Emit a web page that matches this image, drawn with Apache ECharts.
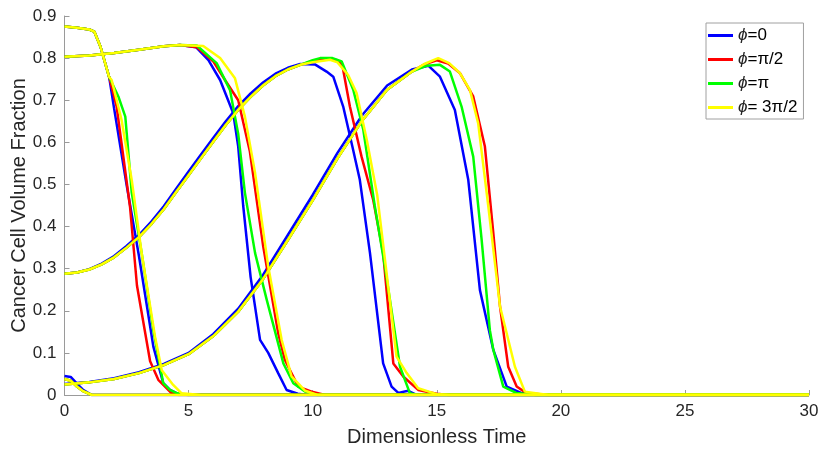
<!DOCTYPE html>
<html><head><meta charset="utf-8">
<script src="https://cdn.jsdelivr.net/npm/echarts@6/dist/echarts.min.js"></script>
<style>html,body{margin:0;padding:0;background:#fff}#c{width:821px;height:450px}</style>
</head><body><div id="c"></div>
<script>
// ---- data (time, volume fraction) ----
const names = ['ϕ=0', 'ϕ=π/2', 'ϕ=π', 'ϕ= 3π/2'];
const colors = ['#0000ff', '#ff0000', '#00ff00', '#ffff00'];
const xTicks = [0, 5, 10, 15, 20, 25, 30];
const yTicks = [0, 0.1, 0.2, 0.3, 0.4, 0.5, 0.6, 0.7, 0.8, 0.9];

const wave1Start = [[0,0.875],[0.5,0.872],[1,0.868],[1.2,0.863],[1.45,0.827],[1.8,0.755]];
const blue1Drop = [[2.0,0.68],[2.5,0.50],[3.0,0.33],[3.58,0.115],[3.98,0.028],[4.25,0.012],[4.6,0.002],[5,0],[30,0]];
const red1Drop = [[2.1,0.685],[2.64,0.447],[2.92,0.26],[3.45,0.08],[3.78,0.036],[4.05,0.02],[4.3,0.005],[4.6,0],[30,0]];
const green1Drop = [[2.17,0.709],[2.45,0.661],[2.71,0.48],[3.11,0.337],[3.58,0.154],[3.98,0.028],[4.25,0.012],[4.5,0.005],[5,0],[30,0]];
const yellow1Drop = [[1.9,0.748],[2.3,0.653],[2.71,0.51],[3.11,0.337],[3.65,0.138],[3.92,0.059],[4.38,0.024],[4.72,0.004],[5.5,0],[30,0]];

const wave2Start = [[0,0.803],[1,0.806],[2,0.812],[3,0.82],[4,0.828],[4.65,0.831]];
const blue2Drop = [[5.3,0.826],[5.8,0.795],[6.27,0.748],[6.8,0.669],[7.0,0.59],[7.2,0.45],[7.5,0.28],[7.88,0.131],[8.21,0.1],[8.61,0.052],[8.95,0.012],[9.4,0.003],[9.8,0],[30,0]];
const red2Drop = [[5.33,0.826],[6.0,0.792],[6.5,0.745],[7.0,0.70],[7.47,0.578],[8.01,0.352],[8.61,0.147],[8.88,0.083],[9.42,0.02],[9.96,0.008],[10.5,0],[30,0]];
const green2Drop = [[5.33,0.83],[6.13,0.788],[6.67,0.724],[7.0,0.62],[7.27,0.48],[7.68,0.337],[8.15,0.226],[8.82,0.075],[9.22,0.028],[9.7,0.008],[10.2,0],[30,0]];
const yellow2Drop = [[5.59,0.829],[6.27,0.80],[6.87,0.752],[7.27,0.661],[7.68,0.527],[8.21,0.305],[8.75,0.131],[9.15,0.044],[9.7,0.01],[10.2,0],[30,0]];

const blue3Rise = [[0,0.288],[0.5,0.291],[1,0.299],[1.5,0.312],[2,0.33],[2.5,0.354],[3,0.38],[3.5,0.412],[4,0.448],[4.5,0.49],[5,0.531],[5.5,0.571],[6,0.611],[6.5,0.65],[7,0.686],[7.5,0.716],[8,0.742],[8.5,0.763],[9,0.777],[9.5,0.786]];
const wave3Rise = [[0,0.288],[0.5,0.291],[1,0.298],[1.5,0.31],[2,0.327],[2.5,0.35],[3,0.375],[3.5,0.406],[4,0.441],[4.5,0.482],[5,0.522],[5.5,0.562],[6,0.602],[6.5,0.641],[7,0.677],[7.5,0.708],[8,0.735],[8.5,0.757],[9,0.773],[9.5,0.784]];
const blue3Drop = [[10.09,0.785],[10.56,0.768],[10.83,0.756],[11.23,0.685],[11.6,0.59],[11.9,0.511],[12.31,0.337],[12.84,0.075],[13.18,0.02],[13.45,0.005],[13.85,0.01],[14.12,0.002],[14.5,0],[30,0]];
const red3Drop = [[10,0.793],[10.56,0.80],[11.0,0.795],[11.2,0.782],[11.5,0.685],[11.97,0.566],[12.44,0.463],[12.84,0.337],[13.25,0.075],[13.65,0.044],[14.25,0.012],[15,0.003],[15.5,0],[30,0]];
const green3Drop = [[10,0.795],[10.3,0.80],[10.8,0.80],[11.17,0.792],[11.64,0.724],[12.04,0.63],[12.5,0.45],[12.91,0.305],[13.52,0.067],[13.92,0.004],[14.2,0],[30,0]];
const yellow3Drop = [[10,0.79],[10.7,0.796],[11.0,0.79],[11.43,0.76],[11.77,0.717],[12.18,0.606],[12.6,0.475],[12.98,0.289],[13.38,0.091],[13.79,0.052],[14.25,0.016],[15,0.002],[15.5,0],[30,0]];

const blue4Rise = [[0,0.026],[1,0.031],[2,0.04],[3,0.054],[4,0.074],[5,0.1],[6,0.145],[7,0.205],[8,0.285],[9,0.38],[10,0.475],[11,0.575],[12,0.665],[13,0.735],[14,0.773],[14.66,0.782]];
const wave4Rise = [[0,0.025],[1,0.03],[2,0.038],[3,0.052],[4,0.071],[5,0.097],[6,0.14],[7,0.198],[8,0.275],[9,0.368],[10,0.462],[11,0.562],[12,0.652],[13,0.725],[14,0.768]];
const blue4Drop = [[15.13,0.756],[15.73,0.677],[16.27,0.511],[16.74,0.249],[17.28,0.107],[17.82,0.02],[18.4,0.005],[19,0],[30,0]];
const red4Drop = [[14.5,0.785],[15.0,0.795],[15.46,0.787],[15.94,0.764],[16.47,0.709],[16.94,0.59],[17.28,0.384],[17.55,0.21],[17.88,0.067],[18.22,0.02],[18.6,0.005],[19.5,0],[30,0]];
const green4Drop = [[14.6,0.782],[15.13,0.784],[15.53,0.768],[16.0,0.685],[16.47,0.566],[16.81,0.368],[17.14,0.154],[17.28,0.107],[17.68,0.02],[18.2,0.005],[19,0],[30,0]];
const yellow4Drop = [[14.5,0.786],[15.06,0.80],[15.5,0.788],[15.94,0.764],[16.34,0.724],[16.67,0.645],[17.08,0.447],[17.55,0.21],[17.82,0.146],[18.15,0.067],[18.55,0.008],[19.5,0],[30,0]];

const blue5 = [[0,0.045],[0.25,0.043],[0.5,0.027],[0.75,0.012],[1.1,0],[30,0]];
const other5 = [[0,0.038],[0.25,0.034],[0.5,0.02],[0.75,0.009],[1.1,0],[30,0]];

// ---- build curves per legend entry ----
const curveSets = [
  [wave1Start.concat(blue1Drop), wave2Start.concat(blue2Drop), blue3Rise.concat(blue3Drop), blue4Rise.concat(blue4Drop), blue5],
  [wave1Start.concat(red1Drop), wave2Start.concat(red2Drop), wave3Rise.concat(red3Drop), wave4Rise.concat(red4Drop), other5],
  [wave1Start.concat(green1Drop), wave2Start.concat(green2Drop), wave3Rise.concat(green3Drop), wave4Rise.concat(green4Drop), other5],
  [wave1Start.concat(yellow1Drop), wave2Start.concat(yellow2Drop), wave3Rise.concat(yellow3Drop), wave4Rise.concat(yellow4Drop), other5]
];

const series = [];
curveSets.forEach((set, i) => {
  set.forEach(curve => {
    series.push({
      name: names[i], type: 'line', data: curve, symbol: 'none',
      lineStyle: { color: colors[i], width: 2.5 }, itemStyle: { color: colors[i] },
      silent: true
    });
  });
});

const FONT = 'Liberation Sans, Arial, sans-serif';
const chart = echarts.init(document.getElementById('c'), null, { renderer: 'canvas' });
chart.setOption({
  animation: false,
  backgroundColor: '#fff',
  grid: { left: 64.5, right: 12, top: 16, bottom: 55, containLabel: false, outerBoundsMode: 'none' },
  xAxis: {
    type: 'value', min: xTicks[0], max: xTicks[xTicks.length - 1], interval: 5,
    name: 'Dimensionless Time', nameLocation: 'middle', nameGap: 32, nameMoveOverlap: false,
    nameTextStyle: { fontFamily: FONT, fontSize: 20, color: '#262626' },
    axisLine: { lineStyle: { color: '#9a9a9a', width: 1 } },
    axisTick: { inside: true, length: 5, lineStyle: { color: '#9a9a9a' } },
    axisLabel: { fontFamily: FONT, fontSize: 17, color: '#262626', margin: 8 },
    splitLine: { show: false }
  },
  yAxis: {
    type: 'value', min: yTicks[0], max: yTicks[yTicks.length - 1], interval: 0.1,
    name: 'Cancer Cell Volume Fraction', nameLocation: 'middle', nameGap: 35, nameMoveOverlap: false,
    nameTextStyle: { fontFamily: FONT, fontSize: 20, color: '#262626' },
    axisLine: { show: true, lineStyle: { color: '#9a9a9a', width: 1 } },
    axisTick: { show: true, inside: true, length: 5, lineStyle: { color: '#9a9a9a' } },
    axisLabel: { fontFamily: FONT, fontSize: 17, color: '#262626', margin: 8,
      formatter: v => String(Math.round(v * 10) / 10) },
    splitLine: { show: false }
  },
  legend: {
    data: names, orient: 'vertical', left: 706, top: 23,
    icon: 'rect', itemWidth: 25, itemHeight: 3, itemGap: 5,
    padding: [3, 6, 2, 2],
    borderColor: '#a0a0a0', borderWidth: 1, backgroundColor: '#fff',
    selectedMode: false,
    formatter: n => '{i|ϕ}{t|' + n.slice(1) + '}',
    textStyle: {
      fontFamily: FONT, fontSize: 17, color: '#000', lineHeight: 19,
      rich: {
        i: { fontFamily: FONT, fontStyle: 'italic', fontSize: 17, color: '#222', lineHeight: 19 },
        t: { fontFamily: FONT, fontSize: 17, color: '#000', lineHeight: 19 }
      }
    }
  },
  series: series
});
</script>
</body></html>
